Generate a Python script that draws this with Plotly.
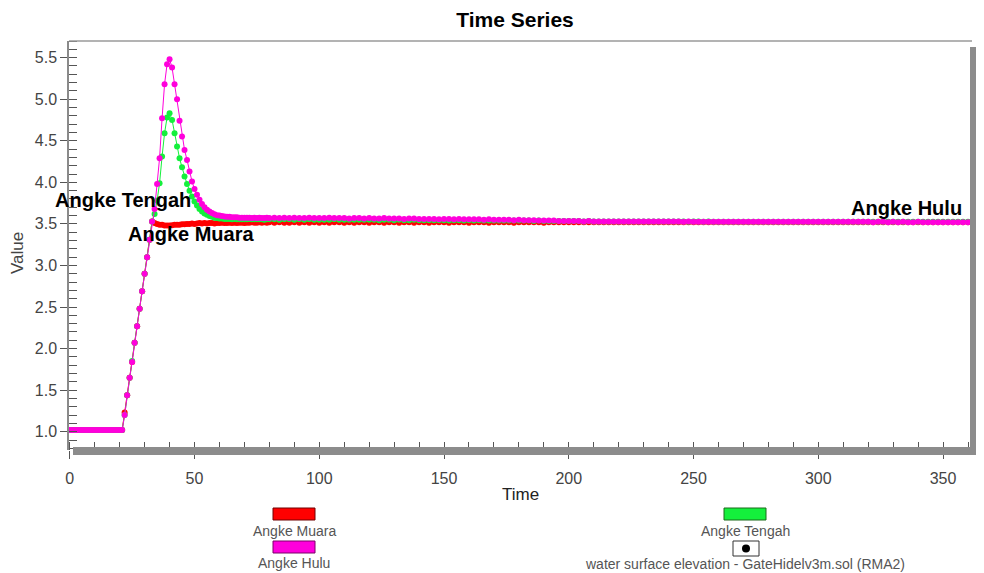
import plotly.graph_objects as go

# ---------------- data ----------------
time_early = list(range(0, 81))          # hourly steps 0..80
time_tail = list(range(82, 361, 2))      # 82..360 (140 steps)
time = time_early + time_tail

muara_early = [
    1.02, 1.02, 1.02, 1.02, 1.02, 1.02, 1.02, 1.02, 1.02, 1.02,
    1.02, 1.02, 1.02, 1.02, 1.02, 1.02, 1.02, 1.02, 1.02, 1.02,
    1.02, 1.02, 1.23, 1.44, 1.65, 1.84, 2.07, 2.27, 2.48, 2.69,
    2.90, 3.10, 3.31, 3.53, 3.51, 3.50, 3.49, 3.49, 3.48, 3.48,
    3.48, 3.485, 3.49, 3.49, 3.49, 3.495, 3.495, 3.50, 3.50, 3.505,
    3.50, 3.505, 3.51, 3.505, 3.51, 3.505, 3.51, 3.51, 3.505, 3.51,
    3.51, 3.515, 3.51, 3.51, 3.515, 3.51, 3.515, 3.51, 3.515, 3.515,
    3.51, 3.515, 3.515, 3.52, 3.515, 3.515, 3.52, 3.515, 3.52, 3.515,
    3.52,
]
muara_tail = [
    3.515, 3.52, 3.515, 3.515, 3.52, 3.515, 3.52, 3.515, 3.52, 3.515,
    3.52, 3.515, 3.52, 3.52, 3.515, 3.52, 3.515, 3.52, 3.52, 3.515,
    3.52, 3.52, 3.515, 3.52, 3.52, 3.515, 3.52, 3.52, 3.515, 3.52,
    3.52, 3.515, 3.52, 3.52, 3.52, 3.515, 3.52, 3.52, 3.52, 3.515,
    3.52, 3.52, 3.52, 3.515, 3.52, 3.52, 3.52, 3.52, 3.515, 3.52,
    3.52, 3.52, 3.52, 3.52, 3.515, 3.52, 3.52, 3.52, 3.52, 3.52,
    3.52, 3.52, 3.52, 3.52, 3.52, 3.52, 3.52, 3.52, 3.52, 3.52,
    3.52, 3.52, 3.52, 3.52, 3.52, 3.52, 3.52, 3.52, 3.52, 3.52,
    3.52, 3.52, 3.52, 3.52, 3.52, 3.52, 3.52, 3.52, 3.52, 3.52,
    3.52, 3.52, 3.52, 3.52, 3.52, 3.52, 3.52, 3.52, 3.52, 3.52,
    3.52, 3.52, 3.52, 3.52, 3.52, 3.52, 3.52, 3.52, 3.52, 3.52,
    3.52, 3.52, 3.52, 3.52, 3.52, 3.52, 3.52, 3.52, 3.52, 3.52,
    3.52, 3.52, 3.52, 3.52, 3.52, 3.52, 3.52, 3.52, 3.52, 3.52,
    3.52, 3.52, 3.52, 3.52, 3.52, 3.52, 3.52, 3.52, 3.52, 3.52,
]

tengah_early = [
    1.02, 1.02, 1.02, 1.02, 1.02, 1.02, 1.02, 1.02, 1.02, 1.02,
    1.02, 1.02, 1.02, 1.02, 1.02, 1.02, 1.02, 1.02, 1.02, 1.02,
    1.02, 1.02, 1.20, 1.44, 1.65, 1.85, 2.07, 2.27, 2.48, 2.69,
    2.90, 3.10, 3.31, 3.53, 3.62, 3.78, 3.99, 4.31, 4.59, 4.78,
    4.83, 4.75, 4.59, 4.43, 4.29, 4.18, 4.07, 3.98, 3.90, 3.83,
    3.77, 3.72, 3.68, 3.65, 3.625, 3.61, 3.595, 3.585, 3.575, 3.57,
    3.565, 3.565, 3.56, 3.56, 3.56, 3.555, 3.56, 3.555, 3.555, 3.555,
    3.555, 3.555, 3.56, 3.555, 3.555, 3.555, 3.555, 3.555, 3.55, 3.555,
    3.555,
]
tengah_tail = [
    3.555, 3.55, 3.555, 3.555, 3.55, 3.555, 3.55, 3.555, 3.55, 3.55,
    3.55, 3.55, 3.555, 3.55, 3.55, 3.55, 3.55, 3.55, 3.55, 3.55,
    3.55, 3.545, 3.55, 3.55, 3.545, 3.55, 3.545, 3.545, 3.55, 3.545,
    3.545, 3.545, 3.545, 3.545, 3.545, 3.54, 3.545, 3.545, 3.54, 3.545,
    3.54, 3.545, 3.54, 3.54, 3.54, 3.54, 3.54, 3.54, 3.54, 3.54,
    3.54, 3.54, 3.535, 3.54, 3.535, 3.535, 3.535, 3.535, 3.535, 3.535,
    3.535, 3.535, 3.53, 3.535, 3.53, 3.53, 3.53, 3.53, 3.53, 3.53,
    3.53, 3.53, 3.53, 3.53, 3.53, 3.53, 3.53, 3.53, 3.53, 3.53,
    3.53, 3.53, 3.53, 3.525, 3.53, 3.53, 3.525, 3.53, 3.525, 3.525,
    3.525, 3.525, 3.525, 3.525, 3.525, 3.525, 3.525, 3.525, 3.525, 3.525,
    3.525, 3.525, 3.525, 3.525, 3.525, 3.525, 3.525, 3.525, 3.525, 3.525,
    3.525, 3.525, 3.525, 3.525, 3.525, 3.525, 3.525, 3.525, 3.525, 3.525,
    3.525, 3.525, 3.525, 3.525, 3.525, 3.525, 3.525, 3.525, 3.525, 3.525,
    3.525, 3.525, 3.525, 3.525, 3.525, 3.525, 3.525, 3.525, 3.525, 3.525,
]

hulu_early = [
    1.02, 1.02, 1.02, 1.02, 1.02, 1.02, 1.02, 1.02, 1.02, 1.02,
    1.02, 1.02, 1.02, 1.02, 1.02, 1.02, 1.02, 1.02, 1.02, 1.02,
    1.02, 1.02, 1.20, 1.44, 1.65, 1.84, 2.07, 2.27, 2.48, 2.69,
    2.90, 3.10, 3.31, 3.53, 3.68, 3.98, 4.29, 4.77, 5.18, 5.42,
    5.48, 5.38, 5.18, 5.00, 4.74, 4.55, 4.39, 4.27, 4.13, 4.01,
    3.92, 3.85, 3.79, 3.74, 3.70, 3.67, 3.65, 3.63, 3.615, 3.605,
    3.60, 3.595, 3.59, 3.585, 3.585, 3.58, 3.58, 3.58, 3.575, 3.575,
    3.575, 3.575, 3.575, 3.57, 3.575, 3.57, 3.575, 3.57, 3.57, 3.575,
    3.57,
]
hulu_tail = [
    3.575, 3.57, 3.575, 3.57, 3.575, 3.57, 3.57, 3.575, 3.57, 3.57,
    3.57, 3.575, 3.57, 3.57, 3.57, 3.565, 3.57, 3.57, 3.565, 3.57,
    3.565, 3.565, 3.57, 3.565, 3.565, 3.565, 3.56, 3.565, 3.565, 3.56,
    3.56, 3.56, 3.56, 3.555, 3.56, 3.56, 3.555, 3.56, 3.555, 3.555,
    3.555, 3.555, 3.55, 3.555, 3.55, 3.55, 3.55, 3.55, 3.545, 3.55,
    3.545, 3.545, 3.545, 3.54, 3.54, 3.54, 3.54, 3.535, 3.535, 3.535,
    3.535, 3.535, 3.53, 3.535, 3.53, 3.53, 3.53, 3.53, 3.53, 3.53,
    3.53, 3.53, 3.53, 3.53, 3.53, 3.53, 3.53, 3.53, 3.53, 3.53,
    3.53, 3.53, 3.525, 3.53, 3.525, 3.525, 3.525, 3.525, 3.525, 3.525,
    3.525, 3.525, 3.525, 3.525, 3.525, 3.525, 3.525, 3.525, 3.525, 3.525,
    3.525, 3.525, 3.525, 3.525, 3.525, 3.525, 3.525, 3.525, 3.525, 3.525,
    3.525, 3.525, 3.525, 3.525, 3.525, 3.525, 3.525, 3.525, 3.525, 3.525,
    3.52, 3.525, 3.525, 3.52, 3.525, 3.52, 3.525, 3.52, 3.52, 3.525,
    3.52, 3.52, 3.52, 3.52, 3.52, 3.52, 3.52, 3.52, 3.52, 3.52,
]

series_names = ["Angke Muara", "Angke Tengah", "Angke Hulu"]
series_values = [muara_early + muara_tail,
                 tengah_early + tengah_tail,
                 hulu_early + hulu_tail]
series_colors = ["#ff0000", "#14f03c", "#ff00dc"]
legend_border = ["#700000", "#1a6a1a", "#7a0068"]

# ---------------- layout geometry ----------------
# The page body has an 8px margin, so the figure is drawn 8px in from the
# window corner; reference pixel positions are converted with that offset.
OFF = 8
W, H = 984 - OFF, 573 - OFF
RL, RR, RT, RB = 69, 972, 41, 450          # plot area edges in reference px
L, R, T, B = RL - OFF, RR - OFF, RT - OFF, RB - OFF


def px(x, y):
    """reference pixel -> paper coordinates"""
    return (x - RL) / (RR - RL), (RB - y) / (RB - RT)


FONT = "Liberation Sans, Arial, sans-serif"

fig = go.Figure()
for name, vals, col in zip(series_names, series_values, series_colors):
    fig.add_trace(go.Scatter(
        x=time, y=vals, mode="lines+markers", name=name,
        line=dict(color=col, width=1),
        marker=dict(color=col, size=6, line=dict(width=0)),
        showlegend=False, cliponaxis=True,
    ))

shapes = []
# top thin border
x0, y0 = px(RL, RT)
x1, _ = px(RR, RT)
shapes.append(dict(type="line", xref="paper", yref="paper", x0=x0, y0=y0, x1=x1, y1=y0,
                   line=dict(color="#9a9a9a", width=1.5)))
# right and bottom thick shadow bands
bx0, by0 = px(970, 47)
bx1, by1 = px(977, 455)
shapes.append(dict(type="rect", xref="paper", yref="paper", x0=bx0, y0=by0, x1=bx1, y1=by1,
                   fillcolor="#8c8c8c", line=dict(width=0)))
bx0, by0 = px(73, 447)
bx1, by1 = px(977, 455)
shapes.append(dict(type="rect", xref="paper", yref="paper", x0=bx0, y0=by0, x1=bx1, y1=by1,
                   fillcolor="#8c8c8c", line=dict(width=0)))

# legend swatches
swatches = [((273, 508, 315, 520), 0), ((273, 541, 315, 553), 2), ((724, 508, 766, 520), 1)]
for (ax0, ay0, ax1, ay1), i in swatches:
    p0 = px(ax0, ay0)
    p1 = px(ax1, ay1)
    shapes.append(dict(type="rect", xref="paper", yref="paper", x0=p0[0], y0=p0[1],
                       x1=p1[0], y1=p1[1], fillcolor=series_colors[i],
                       line=dict(color=legend_border[i], width=1)))
p0 = px(733, 541)
p1 = px(759, 556)
shapes.append(dict(type="rect", xref="paper", yref="paper", x0=p0[0], y0=p0[1], x1=p1[0], y1=p1[1],
                   fillcolor="white", line=dict(color="#333333", width=1)))
p0 = px(742, 544.5)
p1 = px(750, 552.5)
shapes.append(dict(type="circle", xref="paper", yref="paper", x0=p0[0], y0=p0[1], x1=p1[0], y1=p1[1],
                   fillcolor="black", line=dict(color="black", width=0)))

annotations = []
# series labels in the plot
annotations.append(dict(x=21.3, y=3.785, xref="x", yref="y", text="<b>Angke Tengah</b>",
                        showarrow=False, xanchor="center", yanchor="middle",
                        font=dict(family=FONT, size=20, color="black")))
annotations.append(dict(x=48.5, y=3.376, xref="x", yref="y", text="<b>Angke Muara</b>",
                        showarrow=False, xanchor="center", yanchor="middle",
                        font=dict(family=FONT, size=20, color="black")))
annotations.append(dict(x=358.3, y=3.69, xref="x", yref="y", text="<b>Angke Hulu</b>",
                        showarrow=False, xanchor="right", yanchor="middle",
                        font=dict(family=FONT, size=20, color="black")))
# axis titles
ax_, ay_ = px(520, 495)
annotations.append(dict(x=ax_, y=ay_, xref="paper", yref="paper", text="Time", showarrow=False,
                        xanchor="center", yanchor="middle",
                        font=dict(family=FONT, size=17, color="#222222")))
ax_, ay_ = px(18, 253)
annotations.append(dict(x=ax_, y=ay_, xref="paper", yref="paper", text="Value", showarrow=False,
                        xanchor="center", yanchor="middle", textangle=-90,
                        font=dict(family=FONT, size=17, color="#444444")))
# legend texts
legend_texts = [("Angke Muara", 294, 531), ("Angke Hulu", 294, 563),
                ("Angke Tengah", 745, 531),
                ("water surface elevation - GateHidelv3m.sol (RMA2)", 745, 564)]
for txt, lx, ly in legend_texts:
    ax_, ay_ = px(lx, ly)
    annotations.append(dict(x=ax_, y=ay_, xref="paper", yref="paper", text=txt, showarrow=False,
                            xanchor="center", yanchor="middle",
                            font=dict(family=FONT, size=14, color="#555555")))

fig.update_layout(
    width=W, height=H,
    margin=dict(l=L, r=W - R, t=T, b=H - B, pad=0),
    paper_bgcolor="white", plot_bgcolor="white",
    title=dict(text="<b>Time Series</b>", x=(515 - OFF) / W, xref="container", xanchor="center",
               y=1 - (20 - OFF) / H, yref="container", yanchor="middle",
               font=dict(family=FONT, size=21, color="black")),
    showlegend=False,
    shapes=shapes,
    annotations=annotations,
    xaxis=dict(range=[-0.3, 361.6], showgrid=False, zeroline=False, showline=False,
               tickmode="linear", tick0=0, dtick=50,
               ticks="outside", ticklen=8, tickcolor="#555555", tickwidth=1,
               ticklabelstandoff=6,
               tickfont=dict(family=FONT, size=16, color="#444444"),
               minor=dict(dtick=10, ticks="inside", ticklen=8, tickcolor="#555555",
                          tickwidth=1, showgrid=False)),
    yaxis=dict(range=[0.78, 5.70], showgrid=False, zeroline=False,
               showline=True, linecolor="#8a8a8a", linewidth=1.5,
               tickmode="linear", tick0=0, dtick=0.5, tickformat=".1f",
               ticks="outside", ticklen=7, tickcolor="#555555", tickwidth=1,
               tickfont=dict(family=FONT, size=16, color="#444444"),
               minor=dict(dtick=0.1, ticks="inside", ticklen=8, tickcolor="#555555",
                          tickwidth=1, showgrid=False)),
)

fig.write_html("out.html")
